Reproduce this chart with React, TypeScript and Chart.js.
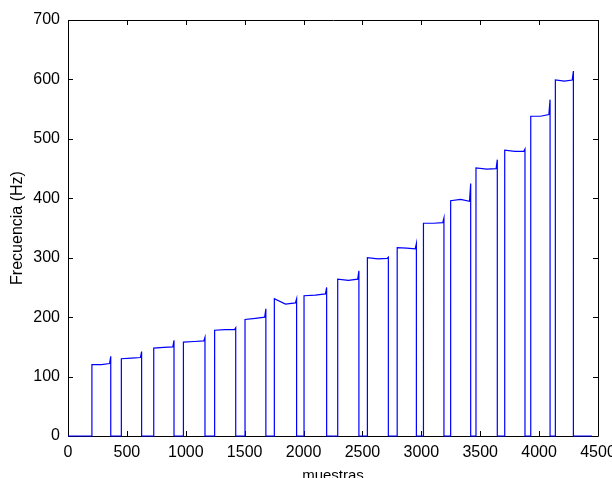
import React, { useEffect, useRef } from "react";
import { Chart, registerables } from "chart.js";

Chart.register(...registerables);

// Step segments (x in samples, y in Hz)
const riseX = [203, 453, 728, 980, 1245, 1503, 1752, 2004, 2290, 2542, 2795, 3018, 3249, 3464, 3708, 3929, 4138];
const fallX = [363, 625, 900, 1163, 1424, 1680, 1941, 2196, 2470, 2720, 2958, 3192, 3419, 3645, 3880, 4093, 4291];
const levelStart = [120, 130, 148, 158, 178, 196, 231, 236, 264, 300, 317, 358, 396, 451, 481, 538, 599];
const levelMid = [120, 131, 149, 159, 179, 198, 222, 237, 262, 298, 316, 358, 398, 449, 479, 538, 597];
const levelEnd = [122, 132, 150, 160, 179, 200, 224, 239, 264, 299, 315, 359, 395, 450, 479, 541, 599];
const spikeTop = [134, 142, 161, 166, 182, 214, 231, 250, 278, 301, 324, 367, 425, 465, 483, 566, 614];
const lastX = 4450;

const xTicks = [0, 500, 1000, 1500, 2000, 2500, 3000, 3500, 4000, 4500];
const yTicks = [0, 100, 200, 300, 400, 500, 600, 700];

function buildPoints() {
  const pts: { x: number; y: number }[] = [{ x: 0, y: 0 }];
  for (let i = 0; i < riseX.length; i++) {
    const s = riseX[i];
    const e = fallX[i];
    pts.push({ x: s, y: 0 });
    pts.push({ x: s, y: levelStart[i] });
    pts.push({ x: (s + e) / 2, y: levelMid[i] });
    pts.push({ x: e - 10, y: levelEnd[i] });
    pts.push({ x: e, y: spikeTop[i] });
    pts.push({ x: e, y: 0 });
  }
  pts.push({ x: lastX, y: 0 });
  return pts;
}

const FONT = "Arial, 'Liberation Sans', sans-serif";

const framePlugin = {
  id: "matlabFrame",
  beforeDatasetsDraw(chart: any) {
    const { ctx, chartArea } = chart;
    const xs = chart.scales.x;
    const ys = chart.scales.y;
    const L = chartArea.left, R = chartArea.right, T = chartArea.top, B = chartArea.bottom;
    ctx.save();
    ctx.strokeStyle = "#000";
    ctx.lineWidth = 1;
    ctx.beginPath();
    ctx.rect(Math.round(L) + 0.5, Math.round(T) + 0.5, Math.round(R - L), Math.round(B - T));
    ctx.stroke();
    const len = 5;
    ctx.beginPath();
    xTicks.forEach((v) => {
      const px = Math.round(xs.getPixelForValue(v)) + 0.5;
      ctx.moveTo(px, B);
      ctx.lineTo(px, B - len);
      ctx.moveTo(px, T);
      ctx.lineTo(px, T + len);
    });
    yTicks.forEach((v) => {
      const py = Math.round(ys.getPixelForValue(v)) + 0.5;
      ctx.moveTo(L, py);
      ctx.lineTo(L + len, py);
      ctx.moveTo(R, py);
      ctx.lineTo(R - len, py);
    });
    ctx.stroke();
    ctx.restore();
  },
};

export default function App() {
  const ref = useRef<HTMLCanvasElement>(null);
  useEffect(() => {
    if (!ref.current) return;
    const chart = new Chart(ref.current, {
      type: "line",
      data: {
        datasets: [
          {
            data: buildPoints(),
            borderColor: "#0000ff",
            borderWidth: 1.2,
            pointRadius: 0,
            tension: 0,
            fill: false,
            clip: false as any,
          },
        ],
      },
      options: {
        animation: false,
        responsive: false,
        events: [],
        layout: { padding: { top: 20, right: 14, left: 0, bottom: 0 } },
        plugins: { legend: { display: false }, tooltip: { enabled: false } },
        scales: {
          x: {
            type: "linear",
            min: 0,
            max: 4500,
            afterFit: (s: any) => {
              s.height = 42;
              s.paddingLeft = 0;
              s.paddingRight = 0;
            },
            afterBuildTicks: (s: any) => {
              s.ticks = xTicks.map((v) => ({ value: v }));
            },
            grid: { display: false, drawTicks: false, tickLength: 0 },
            border: { display: false },
            ticks: {
              color: "#000",
              padding: 7,
              maxRotation: 0,
              autoSkip: false,
              font: { family: FONT, size: 16 },
              callback: (v: any) => String(v),
            },
            title: {
              display: true,
              text: "muestras",
              color: "#000",
              font: { family: FONT, size: 15 },
              padding: { top: 0, bottom: -7 },
            },
          },
          y: {
            type: "linear",
            min: 0,
            max: 700,
            afterFit: (s: any) => {
              s.width = 68;
              s.paddingTop = 0;
              s.paddingBottom = 0;
            },
            afterBuildTicks: (s: any) => {
              s.ticks = yTicks.map((v) => ({ value: v }));
            },
            grid: { display: false, drawTicks: false, tickLength: 0 },
            border: { display: false },
            ticks: {
              color: "#000",
              padding: 8,
              autoSkip: false,
              font: { family: FONT, size: 16 },
              callback: (v: any) => String(v),
            },
            title: {
              display: true,
              text: "Frecuencia (Hz)",
              color: "#000",
              font: { family: FONT, size: 16 },
              padding: { top: 8, bottom: 0 },
            },
          },
        },
      },
      plugins: [framePlugin],
    });
    return () => chart.destroy();
  }, []);
  return (
    <div style={{ position: "absolute", left: 0, top: 0, width: 612, height: 478, background: "#fff" }}>
      <canvas ref={ref} width={612} height={478} style={{ width: 612, height: 478, display: "block" }} />
    </div>
  );
}
